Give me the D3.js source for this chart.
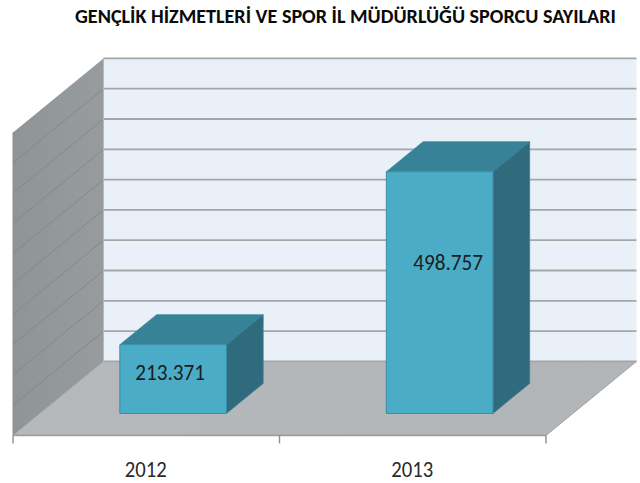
<!DOCTYPE html>
<html><head><meta charset="utf-8">
<script src="https://cdn.jsdelivr.net/npm/d3@7/dist/d3.min.js"></script>
<style>html,body{margin:0;padding:0;background:#fff}svg{display:block}</style></head>
<body><svg id="c" width="640" height="483"></svg>
<script>
const titleText = "GENÇLİK HİZMETLERİ VE SPOR İL MÜDÜRLÜĞÜ SPORCU SAYILARI";
const categories = ["2012", "2013"];
const values = [213371, 498757];
const valueLabels = ["213.371", "498.757"];
const axisTicks = [100000,150000,200000,250000,300000,350000,400000,450000,500000,550000,600000];

const svg = d3.select("#c");
const font = "Carlito, 'Open Sans', 'Noto Sans', sans-serif";
const x0 = 13, x1 = 546, yBase = 435.4, plotH = 303, depthX = 90.5, depthY = 74;
const y = d3.scaleLinear().domain([100000, 600000]).range([0, plotH]);
const x = d3.scaleBand().domain(categories).range([x0, x1]).paddingInner(0).paddingOuter(0);
const d = d3.scaleLinear().domain([0, 1]).range([0, 1]);
const P = (u, v, t) => [u + d(t) * depthX, yBase - y(v) - d(t) * depthY];
const poly = pts => "M" + pts.map(p => p.join(",")).join("L") + "Z";
const vMin = y.domain()[0], vMax = y.domain()[1];

const defs = svg.append("defs");
const g1 = defs.append("linearGradient").attr("id", "wall").attr("x1", 0).attr("x2", 1).attr("y1", 0).attr("y2", 0);
g1.append("stop").attr("offset", 0).attr("stop-color", "#8f9596");
g1.append("stop").attr("offset", 1).attr("stop-color", "#979b9d");
const g2 = defs.append("linearGradient").attr("id", "floor").attr("x1", 0).attr("x2", 1).attr("y1", 0).attr("y2", 0);
g2.append("stop").attr("offset", 0).attr("stop-color", "#b5b9bc");
g2.append("stop").attr("offset", 1).attr("stop-color", "#b1b5b8");

svg.append("path").attr("d", poly([P(x0, vMin, 1), P(x1, vMin, 1), P(x1, vMax, 1), P(x0, vMax, 1)])).attr("fill", "#e9f0f8");
svg.append("path").attr("d", poly([P(x0, vMin, 0), P(x0, vMin, 1), P(x0, vMax, 1), P(x0, vMax, 0)])).attr("fill", "url(#wall)");
svg.append("path").attr("d", poly([P(x0, vMin, 0), P(x1, vMin, 0), P(x1, vMin, 1), P(x0, vMin, 1)])).attr("fill", "url(#floor)");

axisTicks.forEach(t => {
  const a = P(x0, t, 0), b = P(x0, t, 1), c = P(x1, t, 1);
  if (t !== vMax) svg.append("line").attr("x1", a[0]).attr("y1", a[1]).attr("x2", b[0]).attr("y2", b[1]).attr("stroke", t === vMin ? "#a0a4a6" : "#848889").attr("stroke-width", 1);
  svg.append("line").attr("x1", b[0]).attr("y1", b[1]).attr("x2", c[0]).attr("y2", c[1]).attr("stroke", "#a6a6a6").attr("stroke-width", 1.8);
});
svg.append("line").attr("x1", P(x0,vMin,0)[0]).attr("y1", P(x0,vMin,0)[1]).attr("x2", P(x0,vMax,0)[0]).attr("y2", P(x0,vMax,0)[1]).attr("stroke", "#8a8f90");
svg.append("line").attr("x1", P(x0,vMin,1)[0]).attr("y1", P(x0,vMin,1)[1]).attr("x2", P(x0,vMax,1)[0]).attr("y2", P(x0,vMax,1)[1]).attr("stroke", "#b4b9bc");
svg.append("line").attr("x1", P(x1,vMin,0)[0]).attr("y1", P(x1,vMin,0)[1]).attr("x2", P(x1,vMin,1)[0]).attr("y2", P(x1,vMin,1)[1]).attr("stroke", "#a0a3a5");

svg.append("line").attr("x1", x0).attr("x2", x1).attr("y1", yBase).attr("y2", yBase).attr("stroke", "#9c9fa1").attr("stroke-width", 1.6);
[x0, x(categories[1]), x1].forEach(tx => {
  svg.append("line").attr("x1", tx).attr("x2", tx).attr("y1", yBase).attr("y2", yBase + 8).attr("stroke", "#8c8f90").attr("stroke-width", 1.4);
});

const barW = x.bandwidth() / 2.5, t0 = 0.297, t1 = 0.703;
const labelCenterX = c => x(c) + x.bandwidth() / 2;
// data labels sit at the manually dragged places of the source chart
const labelShiftX = [-3, 8.5], labelShiftY = [-7, -30];
categories.forEach((c, i) => {
  const l = x(c) + (x.bandwidth() - barW) / 2, r = l + barW, v = values[i];
  svg.append("path").attr("d", poly([P(l, v, t0), P(l, v, t1), P(r, v, t1), P(r, v, t0)])).attr("fill", "#378297").attr("stroke", "#3f8ba1").attr("stroke-width", 0.8);
  svg.append("path").attr("d", poly([P(r, vMin, t0), P(r, vMin, t1), P(r, v, t1), P(r, v, t0)])).attr("fill", "#2f6b7d").attr("stroke", "#3a7f93").attr("stroke-width", 0.8);
  svg.append("path").attr("d", poly([P(l, vMin, t0), P(r, vMin, t0), P(r, v, t0), P(l, v, t0)])).attr("fill", "#4bacc8").attr("stroke", "#3b8ea6").attr("stroke-width", 1);
  const pLab = P((l + r) / 2, (v + vMin) / 2, t0);
  svg.append("text").attr("x", pLab[0] + labelShiftX[i] - 35).attr("y", pLab[1] + labelShiftY[i] + 7.5)
    .attr("font-family", font).attr("font-size", 22).attr("fill", "#1c1c1c")
    .attr("textLength", 70).attr("lengthAdjust", "spacingAndGlyphs").text(valueLabels[i]);
  svg.append("text").attr("x", labelCenterX(c) - 21.5).attr("y", 477)
    .attr("font-family", font).attr("font-size", 22).attr("fill", "#2a2a2a")
    .attr("textLength", 42).attr("lengthAdjust", "spacingAndGlyphs").text(c);
});

svg.append("text").attr("x", 75).attr("y", 23).attr("font-family", font).attr("font-size", 19.5).attr("font-weight", 700)
  .attr("fill", "#0a0a0a").attr("textLength", 541).attr("lengthAdjust", "spacingAndGlyphs").text(titleText);
</script></body></html>
